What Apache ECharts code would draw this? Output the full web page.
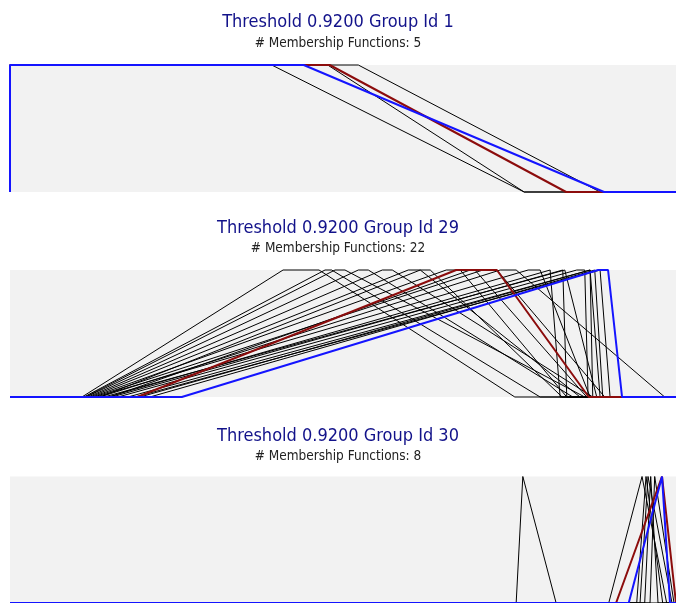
<!DOCTYPE html>
<html>
<head>
<meta charset="utf-8">
<script src="https://cdn.jsdelivr.net/npm/echarts@6/dist/echarts.min.js"></script>
<style>
  html, body { margin: 0; padding: 0; background: #ffffff; }
  #chart { width: 676px; height: 603px; }
</style>
</head>
<body>
<div id="chart"></div>
<script>
// Universe of discourse shared by every group
const xMin = 0;
const xMax = 100;

const groupTitles = [
  'Threshold 0.9200 Group Id 1',
  'Threshold 0.9200 Group Id 29',
  'Threshold 0.9200 Group Id 30'
];

// Membership functions as trapezoids [a, b, c, d]
// Group 1
const group1Black = [
  [0, 0, 39.3, 77.2],
  [0, 0, 47.7, 77.2],
  [0, 0, 52.3, 88.6]
];
const group1Red = [0, 0, 48.0, 83.5];
const group1Blue = [0, 0, 44.1, 89.2];

// Group 29
const group29Black = [
  [10.8, 41.0, 46.4, 75.8],
  [11.1, 47.3, 48.3, 79.6],
  [11.3, 48.8, 50.3, 86.3],
  [11.4, 52.3, 53.8, 84.5],
  [11.7, 55.9, 57.4, 87.5],
  [12.0, 59.8, 61.6, 85.6],
  [12.3, 65.5, 67.6, 83.6],
  [12.6, 71.0, 73.1, 89.3],
  [12.9, 77.8, 79.6, 87.1],
  [13.5, 73.6, 76.0, 98.3],
  [14.1, 83.3, 83.3, 88.1],
  [14.7, 81.1, 81.1, 82.6],
  [15.3, 83.0, 83.0, 83.6],
  [16.2, 85.1, 86.3, 86.8],
  [17.7, 87.1, 87.1, 87.5],
  [18.8, 88.6, 88.6, 90.1],
  [19.5, 87.1, 87.1, 88.6],
  [21.0, 87.8, 88.1, 89.0],
  [13.5, 61.6, 63.1, 82.9],
  [15.0, 69.1, 69.8, 86.6]
];
const group29Red = [19.1, 67.0, 73.1, 86.9];
const group29Blue = [25.8, 88.3, 89.8, 91.9];

// Group 30
const group30Black = [
  [76.0, 77.0, 77.0, 82.0],
  [89.9, 94.9, 94.9, 98.6],
  [94.1, 95.5, 95.5, 98.0],
  [94.6, 95.8, 95.8, 99.4],
  [95.3, 96.2, 96.2, 97.3],
  [96.1, 96.8, 96.8, 99.7]
];
const group30Red = [91.0, 97.9, 97.9, 100];
const group30Blue = [92.9, 97.9, 97.9, 99.1];

const groups = [
  { black: group1Black, red: group1Red, blue: group1Blue },
  { black: group29Black, red: group29Red, blue: group29Blue },
  { black: group30Black, red: group30Red, blue: group30Blue }
];

// Layout of the three stacked panels
const panelTop = [65, 270, 476.5];
const panelHeight = 127;
const titleTop = [8, 214, 422];
const subTop = [31, 236, 444];

const FONT = "'DejaVu Sans Condensed', 'DejaVu Sans', sans-serif";

function trapezoid(mf) {
  const [a, b, c, d] = mf;
  return [[xMin, 0], [a, 0], [b, 1], [c, 1], [d, 0], [xMax, 0]];
}

function mfSeries(mf, idx, color, width) {
  return {
    type: 'line',
    xAxisIndex: idx,
    yAxisIndex: idx,
    data: trapezoid(mf),
    symbol: 'none',
    clip: false,
    silent: true,
    lineStyle: { color: color, width: width },
    z: width > 1 ? 3 : 2
  };
}

const grids = [], xAxes = [], yAxes = [], titles = [], series = [];
groups.forEach((g, i) => {
  grids.push({
    left: 10, right: 0, top: panelTop[i], height: panelHeight,
    show: true, backgroundColor: '#f2f2f2', borderWidth: 0
  });
  xAxes.push({ type: 'value', gridIndex: i, min: xMin, max: xMax, show: false });
  yAxes.push({ type: 'value', gridIndex: i, min: 0, max: 1, show: false });
  const count = g.black.length + 2;
  titles.push({
    text: groupTitles[i], left: 'center', top: titleTop[i],
    textStyle: { fontFamily: FONT, fontSize: 18, fontWeight: 'normal', color: '#12128a' }
  });
  titles.push({
    text: '# Membership Functions: ' + count, left: 'center', top: subTop[i],
    textStyle: { fontFamily: FONT, fontSize: 13.5, fontWeight: 'normal', color: '#222222' }
  });
  g.black.forEach(mf => series.push(mfSeries(mf, i, '#000000', 1)));
  series.push(mfSeries(g.red, i, '#8c0c0c', 2));
  series.push(mfSeries(g.blue, i, '#1414ff', 2));
});

const chart = echarts.init(document.getElementById('chart'), null, { renderer: 'canvas' });
chart.setOption({
  animation: false,
  backgroundColor: '#ffffff',
  title: titles,
  grid: grids,
  xAxis: xAxes,
  yAxis: yAxes,
  series: series
});
</script>
</body>
</html>
